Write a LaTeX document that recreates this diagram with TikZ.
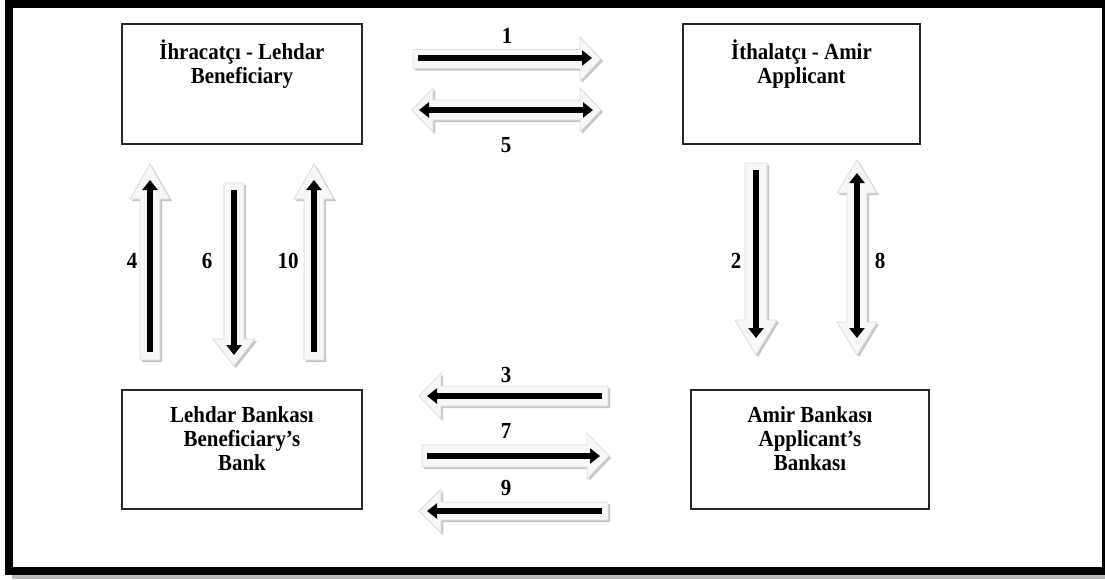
\documentclass[tikz,border=0pt]{standalone}
\usepackage{fontspec}
\setmainfont{Liberation Serif}[FakeStretch=0.91]
\usetikzlibrary{arrows.meta}
\tikzset{
  box/.style={draw=black!85, line width=1.5pt, inner sep=0pt, outer sep=0pt, fill=white},
  lbl/.style={font=\fontsize{23}{24}\selectfont\bfseries, anchor=base, inner sep=0pt},
  blk/.style={line width=5.5pt, -{Triangle[length=10pt,width=15pt]}, black},
  blkd/.style={line width=5.5pt, {Triangle[length=10pt,width=15pt]}-{Triangle[length=10pt,width=15pt]}, black},
  arrbody/.style={fill=gray!6, draw=gray!28, line width=0.8pt},
  arrshadow/.style={fill=gray!45},
}
% single block arrow: x, y (tail), angle, length, head length, shaft half width, head half width
\newcommand\barrowS[7]{%
  \fill[arrshadow, shift={(#1+2,#2+2)}, rotate=#3] (0,-#6) -- (#4-#5,-#6) -- (#4-#5,-#7) -- (#4,0) -- (#4-#5,#7) -- (#4-#5,#6) -- (0,#6) -- cycle;
  \filldraw[arrbody, shift={(#1,#2)}, rotate=#3] (0,-#6) -- (#4-#5,-#6) -- (#4-#5,-#7) -- (#4,0) -- (#4-#5,#7) -- (#4-#5,#6) -- (0,#6) -- cycle;
}
% double block arrow
\newcommand\barrowD[7]{%
  \fill[arrshadow, shift={(#1+2,#2+2)}, rotate=#3] (0,0) -- (#5,#7) -- (#5,#6) -- (#4-#5,#6) -- (#4-#5,#7) -- (#4,0) -- (#4-#5,-#7) -- (#4-#5,-#6) -- (#5,-#6) -- (#5,-#7) -- cycle;
  \filldraw[arrbody, shift={(#1,#2)}, rotate=#3] (0,0) -- (#5,#7) -- (#5,#6) -- (#4-#5,#6) -- (#4-#5,#7) -- (#4,0) -- (#4-#5,-#7) -- (#4-#5,-#6) -- (#5,-#6) -- (#5,-#7) -- cycle;
}
\newcommand\boxtext[3]{\parbox[c][#1pt][t]{#2pt}{\centering\fontsize{23}{24}\selectfont\bfseries\vspace*{15.5pt}\strut #3}}
\begin{document}
\begin{tikzpicture}[x=1pt, y=-1pt]
\useasboundingbox (0,0) rectangle (1105,579);
\fill[white] (0,0) rectangle (1105,579);
% frame
\fill[gray!55] (12,575) rectangle (1105,579);
\draw[line width=8pt] (9,3.5) rectangle (1106,571);

% boxes
\node[box] (exp) at (242,84) {\boxtext{120}{240}{İhracatçı - Lehdar\\Beneficiary}};
\node[box] (imp) at (801.5,84) {\boxtext{120}{237}{İthalatçı - Amir\\Applicant}};
\node[box] (bbank) at (242,449.5) {\boxtext{119}{240}{Lehdar Bankası\\Beneficiary’s\\Bank}};
\node[box] (abank) at (810,449.5) {\boxtext{119}{238}{Amir Bankası\\Applicant’s\\Bankası}};

% block arrows
\barrowS{413}{59}{0}{188}{21}{9.5}{22}
\barrowD{412}{110}{0}{189}{21}{10}{22}
\barrowS{608}{396}{180}{189}{22}{10}{23}
\barrowS{422}{456}{0}{187}{22}{11}{23}
\barrowS{608}{511}{180}{189}{22}{9}{22}
\barrowS{150}{360}{90}{196}{35}{10}{20}
\barrowS{234}{183}{-90}{183}{27}{10}{21}
\barrowS{314}{360}{90}{196}{35}{10}{20}
\barrowS{756}{163}{-90}{192}{35}{11}{21}
\barrowD{857}{355}{90}{195}{33}{10}{20}

% black arrows
\coordinate (a1s) at (418,58);  \coordinate (a1e) at (592,58);
\coordinate (a5s) at (419,110); \coordinate (a5e) at (593,110);
\coordinate (a3s) at (602,396); \coordinate (a3e) at (427,396);
\coordinate (a7s) at (427,456); \coordinate (a7e) at (600,456);
\coordinate (a9s) at (602,511); \coordinate (a9e) at (427,511);
\coordinate (a4s) at (150,352); \coordinate (a4e) at (150,180);
\coordinate (a6s) at (234,190); \coordinate (a6e) at (234,355);
\coordinate (a10s) at (314,352); \coordinate (a10e) at (314,180);
\coordinate (a2s) at (756,170); \coordinate (a2e) at (756,338);
\coordinate (a8s) at (857,173); \coordinate (a8e) at (857,338);
\draw[blk] (a1s) -- (a1e);
\draw[blkd] (a5s) -- (a5e);
\draw[blk] (a3s) -- (a3e);
\draw[blk] (a7s) -- (a7e);
\draw[blk] (a9s) -- (a9e);
\draw[blk] (a4s) -- (a4e);
\draw[blk] (a6s) -- (a6e);
\draw[blk] (a10s) -- (a10e);
\draw[blk] (a2s) -- (a2e);
\draw[blkd] (a8s) -- (a8e);

% labels
\node[lbl] (l1) at (507,43) {1};
\node[lbl] (l5) at (506,152) {5};
\node[lbl] (l3) at (506,382) {3};
\node[lbl] (l7) at (506,438) {7};
\node[lbl] (l9) at (506,495) {9};
\node[lbl] (l4) at (132,268) {4};
\node[lbl] (l6) at (207,268) {6};
\node[lbl] (l10) at (288,268) {10};
\node[lbl] (l2) at (736,268) {2};
\node[lbl] (l8) at (880,268) {8};
\end{tikzpicture}
\end{document}
